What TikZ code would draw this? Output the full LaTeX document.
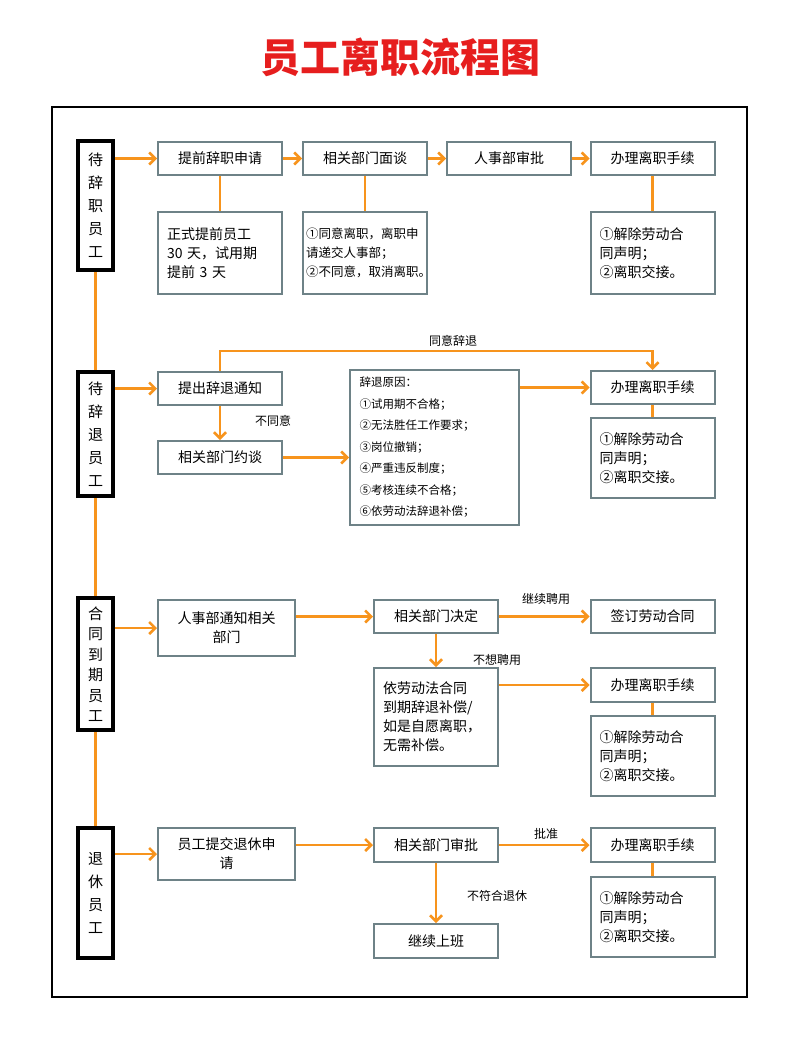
\documentclass[tikz,border=0pt]{standalone}
\usepackage{fontspec}
\setmainfont{Noto Sans CJK SC}
\usetikzlibrary{arrows.meta}
\definecolor{org}{RGB}{247,148,29}
\definecolor{bd}{RGB}{110,130,135}
\definecolor{ttl}{RGB}{230,30,30}
\begin{document}
\begin{tikzpicture}[x=1pt,y=-1pt,
  box/.style={draw=bd,line width=2pt,fill=white,inner sep=0pt,align=center,font=\fontsize{14}{19}\selectfont},
  tbox/.style={box,align=left,text width=#1,inner xsep={(124pt-#1pt)/2}},
  cat/.style={draw=black,line width=3.5pt,fill=white,inner sep=0pt,minimum width=35,align=center,font=\fontsize{15}{23}\selectfont},
  ar/.style={draw=org,line width=2.5pt,-{Straight Barb[length=6pt,width=12pt]}},
  ln/.style={draw=org,line width=2.5pt},
  lab/.style={font=\fontsize{12}{14}\selectfont}]
\useasboundingbox (0,0) rectangle (800,1054);
\node[font=\fontsize{40}{44}\bfseries\selectfont,text=ttl] (title) at (400,57) {员工离职流程图};
\draw[line width=2pt] (52,107) rectangle (747,997);
% categories
\node[cat,minimum height=129] (c1) at (95.5,205.5) {待\\辞\\职\\员\\工};
\node[cat,minimum height=124] (c2) at (95.5,434) {待\\辞\\退\\员\\工};
\node[cat,minimum height=132,font=\fontsize{15}{20.5}\selectfont] (c3) at (95.5,664) {合\\同\\到\\期\\员\\工};
\node[cat,minimum height=130] (c4) at (95.5,893) {退\\休\\员\\工};
\draw[ln] (c1.south) -- (c2.north);
\draw[ln] (c2.south) -- (c3.north);
\draw[ln] (c3.south) -- (c4.north);
% row1
\node[box,minimum width=124,minimum height=33] (a1) at (220,158.5) {提前辞职申请};
\node[box,minimum width=124,minimum height=33] (a2) at (365,158.5) {相关部门面谈};
\node[box,minimum width=124,minimum height=33] (a3) at (509,158.5) {人事部审批};
\node[box,minimum width=124,minimum height=33] (a4) at (652.5,158.5) {办理离职手续};
\node[tbox=106,minimum height=82] (b1) at (220,253) {正式提前员工\\30 天，试用期\\提前 3 天};
\node[tbox=118,minimum height=82,font=\fontsize{12.5}{19}\selectfont] (b2) at (365,253) {①同意离职，离职申\\请递交人事部；\\②不同意，取消离职。};
\node[tbox=106,minimum height=82] (b4) at (652.5,253) {①解除劳动合\\同声明；\\②离职交接。};
\draw[ar] (c1.east|-a1) -- (a1);
\draw[ar] (a1) -- (a2);
\draw[ar] (a2) -- (a3);
\draw[ar] (a3) -- (a4);
\draw[ln] (a1) -- (b1);
\draw[ln] (a2) -- (b2);
\draw[ln] (a4) -- (b4);
% row2
\node[box,minimum width=124,minimum height=33] (d1) at (220,388.5) {提出辞退通知};
\node[box,minimum width=124,minimum height=33] (d2) at (220,457.5) {相关部门约谈};
\node[box,minimum width=169,minimum height=155,align=left,text width=150,inner xsep=9.5pt,font=\fontsize{11.5}{21.5}\selectfont] (d3) at (434.5,447.5) {辞退原因：\\①试用期不合格；\\②无法胜任工作要求；\\③岗位撤销；\\④严重违反制度；\\⑤考核连续不合格；\\⑥依劳动法辞退补偿；};
\node[box,minimum width=124,minimum height=33] (d4) at (652.5,387.5) {办理离职手续};
\node[tbox=106,minimum height=80] (d5) at (652.5,458) {①解除劳动合\\同声明；\\②离职交接。};
\draw[ar] (c2.east|-d1) -- (d1);
\draw[ar] (d1) -- (d2);
\node[lab] (l1) at (273,421) {不同意};
\draw[ar] (d2.east) -- (d3.west|-d2);
\draw[ar] (d3.east|-d4) -- (d4);
\draw[ar] (d1.north) -- ++(0,-20) -| (d4.north);
\node[lab] (l2) at (453,341) {同意辞退};
\draw[ln] (d4) -- (d5);
% row3
\node[box,minimum width=137,minimum height=56] (e1) at (226.5,628) {人事部通知相关\\部门};
\node[box,minimum width=124,minimum height=33] (e2) at (436,616.5) {相关部门决定};
\node[box,minimum width=124,minimum height=33] (e3) at (652.5,616.5) {签订劳动合同};
\node[tbox=106,minimum height=98] (e4) at (436,717) {依劳动法合同\\到期辞退补偿/\\如是自愿离职，\\无需补偿。};
\node[box,minimum width=124,minimum height=34] (e5) at (652.5,685) {办理离职手续};
\node[tbox=106,minimum height=80] (e6) at (652.5,756) {①解除劳动合\\同声明；\\②离职交接。};
\draw[ar] (c3.east|-e1) -- (e1);
\draw[ar] (e1.east|-e2) -- (e2);
\draw[ar] (e2) -- (e3);
\node[lab] (l3) at (546,599) {继续聘用};
\draw[ar] (e2) -- (e4);
\node[lab] (l4) at (497,660) {不想聘用};
\draw[ar] (e4.east|-e5) -- (e5);
\draw[ln] (e5) -- (e6);
% row4
\node[box,minimum width=137,minimum height=52] (f1) at (226.5,854) {员工提交退休申\\请};
\node[box,minimum width=124,minimum height=34] (f2) at (436,845) {相关部门审批};
\node[box,minimum width=124,minimum height=34] (f3) at (652.5,845) {办理离职手续};
\node[box,minimum width=124,minimum height=34] (f4) at (436,941) {继续上班};
\node[tbox=106,minimum height=80] (f5) at (652.5,917) {①解除劳动合\\同声明；\\②离职交接。};
\draw[ar] (c4.east|-f1) -- (f1);
\draw[ar] (f1.east|-f2) -- (f2);
\draw[ar] (f2) -- (f3);
\node[lab] (l5) at (546,834) {批准};
\draw[ar] (f2) -- (f4);
\node[lab] (l6) at (497,896) {不符合退休};
\draw[ln] (f3) -- (f5);
\end{tikzpicture}
\end{document}
